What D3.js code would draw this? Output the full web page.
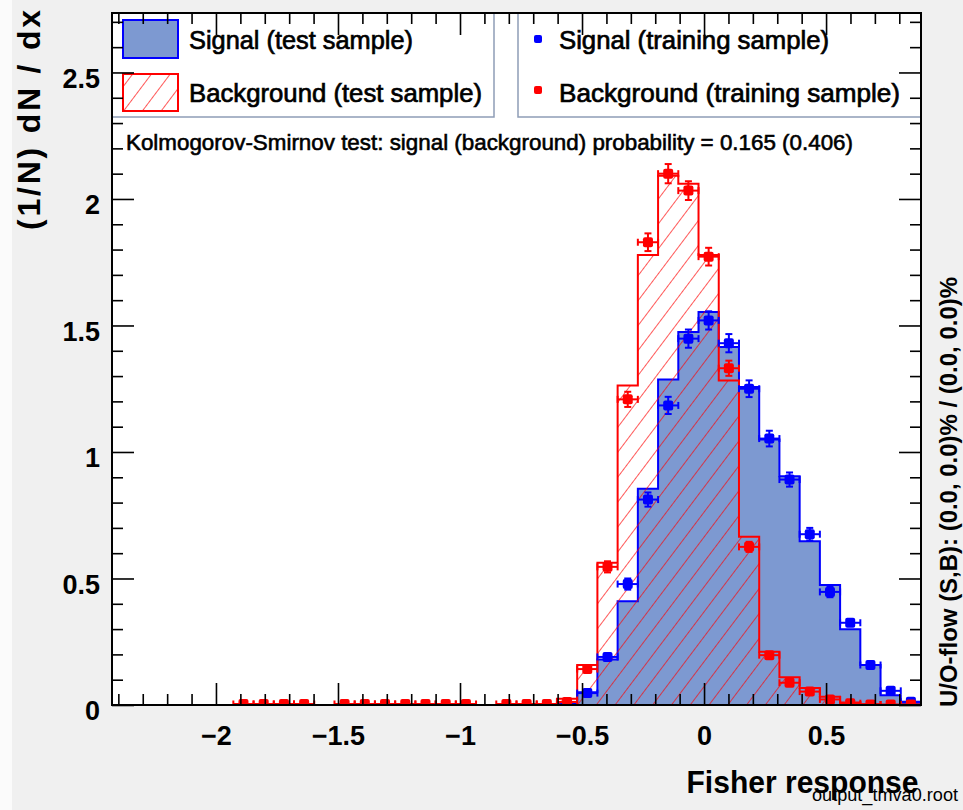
<!DOCTYPE html>
<html><head><meta charset="utf-8">
<script src="https://cdn.jsdelivr.net/npm/d3@7/dist/d3.min.js"></script>
<style>
body{margin:0;background:#f0f0f0}
svg{display:block}
text{font-family:"Liberation Sans",Arial,Helvetica,sans-serif}
</style>
</head><body>
<svg id="c" width="963" height="810"></svg>
<script>
// ---------------- data ----------------
const xRange = [-2.426, 0.889];
const yRange = [0, 2.735];
const nBins = 40;

const sigTest = [0,0,0,0,0,0,0,0,0,0, 0,0,0,0,0,0,0,0,0,0,
  0,0,0.004,0.05,0.18,0.41,0.855,1.286,1.474,1.553,
  1.415,1.257,1.049,0.904,0.647,0.474,0.299,0.158,0.039,0.009];

const bkgTest = [0,0,0,0,0,0,0,0,0,0, 0,0,0,0,0,0,0,0,0,0,
  0,0,0.025,0.158,0.562,1.263,1.779,2.092,2.06,1.779,
  1.283,0.665,0.21,0.11,0.067,0.033,0.01,0.003,0,0];

const sigTrain = [null,null,null,null,null,null,null,null,null,null,
  null,null,null,null,null,null,null,null,null,null,
  null,null,null,0.047,0.19,0.478,0.812,1.184,1.448,1.52,
  1.43,1.25,1.053,0.891,0.675,0.447,0.325,0.158,0.056,0.013];
const sigTrainErr = [null,null,null,null,null,null,null,null,null,null,
  null,null,null,null,null,null,null,null,null,null,
  null,null,null,0.008,0.015,0.022,0.028,0.034,0.036,0.036,
  0.036,0.033,0.031,0.028,0.025,0.021,0.018,0.013,0.008,0.004];

const bkgTrain = [null,null,null,null,null,null,0.004,0.004,0.004,0.004,
  null,0.004,0.004,0.004,0.004,0.004,0.004,0.004,null,0.004,
  0.004,0.004,0.012,0.142,0.546,1.208,1.829,2.10,2.033,1.772,
  1.331,0.625,0.197,0.088,0.053,0.022,0.007,0.002,0.002,0.002];
const bkgTrainErr = [null,null,null,null,null,null,0.003,0.003,0.003,0.003,
  null,0.003,0.003,0.003,0.003,0.003,0.003,0.003,null,0.003,
  0.003,0.003,0.005,0.012,0.022,0.03,0.035,0.038,0.037,0.035,
  0.03,0.02,0.012,0.008,0.006,0.004,0.003,0.002,0.002,0.002];

const xMajorTicks = [-2, -1.5, -1, -0.5, 0, 0.5];
const xTickLabels = ["\u22122", "\u22121.5", "\u22121", "\u22120.5", "0", "0.5"];
const yMajorTicks = [0, 0.5, 1, 1.5, 2, 2.5];
const yTickLabels = ["0", "0.5", "1", "1.5", "2", "2.5"];

const legendLeft = ["Signal (test sample)", "Background (test sample)"];
const legendRight = ["Signal (training sample)", "Background (training sample)"];
const ksText = "Kolmogorov-Smirnov test: signal (background) probability = 0.165 (0.406)";
const xTitle = "Fisher response";
const yTitle = "(1/N) dN / dx";
const flowText = "U/O-flow (S,B): (0.0, 0.0)% / (0.0, 0.0)%";
const fileText = "output_tmva0.root";

// ---------------- styles ----------------
const sigFill = "#7d99d1", sigLine = "#0000ff", bkgLine = "#ff0000";
const L = 112, R = 921, T = 13, B = 705;

const svg = d3.select("#c");
const x = d3.scaleLinear().domain(xRange).range([L, R]);
const y = d3.scaleLinear().domain(yRange).range([B, T]);
const bw = (xRange[1] - xRange[0]) / nBins;
const edge = i => xRange[0] + i * bw;

// background
svg.append("rect").attr("width", 963).attr("height", 810).attr("fill", "#f0f0f0");
svg.append("rect").attr("width", 12).attr("height", 810).attr("fill", "#fbfbfb");
svg.append("rect").attr("x", L).attr("y", T).attr("width", R - L).attr("height", B - T).attr("fill", "#fff");

const defs = svg.append("defs");
const pat = defs.append("pattern").attr("id", "hatch").attr("patternUnits", "userSpaceOnUse")
  .attr("width", 15).attr("height", 15).attr("patternTransform", "rotate(37)");
pat.append("line").attr("x1", 0).attr("y1", -2).attr("x2", 0).attr("y2", 17)
  .attr("stroke", bkgLine).attr("stroke-width", 1.3);

defs.append("clipPath").attr("id", "plotclip").append("rect")
  .attr("x", L).attr("y", T).attr("width", R - L).attr("height", B - T);

function stepPoints(vals) {
  const pts = [[x(edge(0)), y(0)]];
  vals.forEach((v, i) => { pts.push([x(edge(i)), y(v)]); pts.push([x(edge(i + 1)), y(v)]); });
  pts.push([x(edge(nBins)), y(0)]);
  return pts;
}
const line = d3.line();
const plot = svg.append("g").attr("clip-path", "url(#plotclip)");

plot.append("path").attr("d", line(stepPoints(sigTest)) + "Z")
  .attr("fill", sigFill).attr("stroke", sigLine).attr("stroke-width", 2).attr("stroke-linejoin", "miter");
plot.append("path").attr("d", line(stepPoints(bkgTest)) + "Z")
  .attr("fill", "url(#hatch)").attr("stroke", bkgLine).attr("stroke-width", 2);

function drawPoints(vals, errs, color) {
  const g = plot.append("g").attr("stroke", color).attr("fill", color).attr("stroke-width", 2);
  vals.forEach((v, i) => {
    if (v === null) return;
    const cx = x(edge(i) + bw / 2), cy = y(v);
    const x0 = x(edge(i)), x1 = x(edge(i + 1));
    const e = errs[i] || 0;
    const ya = y(v + e), yb = y(v - e);
    g.append("line").attr("x1", x0).attr("x2", x1).attr("y1", cy).attr("y2", cy);
    g.append("line").attr("x1", x0).attr("x2", x0).attr("y1", cy - 3.5).attr("y2", cy + 3.5);
    g.append("line").attr("x1", x1).attr("x2", x1).attr("y1", cy - 3.5).attr("y2", cy + 3.5);
    if (yb - ya > 10) {
      g.append("line").attr("x1", cx).attr("x2", cx).attr("y1", ya).attr("y2", yb);
      g.append("line").attr("x1", cx - 3.5).attr("x2", cx + 3.5).attr("y1", ya).attr("y2", ya);
      g.append("line").attr("x1", cx - 3.5).attr("x2", cx + 3.5).attr("y1", yb).attr("y2", yb);
    }
    g.append("rect").attr("x", cx - 5).attr("y", cy - 5).attr("width", 10).attr("height", 10)
      .attr("rx", 2).attr("stroke", "none");
  });
}
drawPoints(sigTrain, sigTrainErr, sigLine);
drawPoints(bkgTrain, bkgTrainErr, bkgLine);

// ---------------- legends ----------------
const legBorder = "#8e9db6";
const lg = svg.append("g");
lg.append("rect").attr("x", L).attr("y", T).attr("width", 494 - L).attr("height", 117 - T)
  .attr("fill", "#fff").attr("stroke", legBorder).attr("stroke-width", 1.5);
lg.append("rect").attr("x", 518).attr("y", T).attr("width", R - 518).attr("height", 117 - T)
  .attr("fill", "#fff").attr("stroke", legBorder).attr("stroke-width", 1.5);

lg.append("rect").attr("x", 123).attr("y", 20).attr("width", 55).attr("height", 38)
  .attr("fill", sigFill).attr("stroke", sigLine).attr("stroke-width", 2);
lg.append("rect").attr("x", 123).attr("y", 74).attr("width", 55).attr("height", 37)
  .attr("fill", "url(#hatch)").attr("stroke", bkgLine).attr("stroke-width", 2);

const legTxt = (t, xx, yy, tl) => lg.append("text").attr("x", xx).attr("y", yy).text(t)
  .attr("font-size", 25.7).attr("fill", "#000").attr("stroke", "#000").attr("stroke-width", 0.7)
  .attr("textLength", tl).attr("lengthAdjust", "spacingAndGlyphs");
legTxt(legendLeft[0], 189, 48.5, 224);
legTxt(legendLeft[1], 189, 101.5, 293);
legTxt(legendRight[0], 559, 48.5, 270);
legTxt(legendRight[1], 559, 101.5, 341);
lg.append("rect").attr("x", 534).attr("y", 35).attr("width", 8).attr("height", 8).attr("rx", 2).attr("fill", sigLine);
lg.append("rect").attr("x", 534).attr("y", 86).attr("width", 8).attr("height", 8).attr("rx", 2).attr("fill", bkgLine);

svg.append("text").attr("x", 126).attr("y", 149.5).text(ksText)
  .attr("font-size", 22.4).attr("fill", "#000").attr("stroke", "#000").attr("stroke-width", 0.6)
  .attr("textLength", 727).attr("lengthAdjust", "spacingAndGlyphs");

// ---------------- axes ----------------
const xMinor = d3.range(-24, 9).map(d => d / 10).filter(v => !xMajorTicks.some(m => Math.abs(m - v) < 1e-9));
const yMinor = d3.range(0, 28).map(d => d / 10).filter(v => !yMajorTicks.some(m => Math.abs(m - v) < 1e-9));

function styleAxis(g) {
  g.select(".domain").remove();
  g.selectAll(".tick line").attr("stroke", "#000").attr("stroke-width", 1.6);
}
const ax = svg.append("g");
ax.append("g").attr("transform", `translate(0,${B})`)
  .call(d3.axisBottom(x).tickValues(xMajorTicks).tickSize(-22).tickSizeOuter(0).tickPadding(21)
    .tickFormat((d, i) => xTickLabels[i]))
  .call(styleAxis)
  .call(g => g.selectAll("text").attr("font-size", 27).attr("font-weight", "bold").attr("fill", "#000")
    .attr("font-family", "'Liberation Sans', Arial, sans-serif"));
ax.append("g").attr("transform", `translate(0,${B})`)
  .call(d3.axisBottom(x).tickValues(xMinor).tickSize(-11).tickSizeOuter(0).tickFormat(""))
  .call(styleAxis);
ax.append("g").attr("transform", `translate(0,${T})`)
  .call(d3.axisTop(x).tickValues(xMajorTicks).tickSize(-22).tickSizeOuter(0).tickFormat(""))
  .call(styleAxis);
ax.append("g").attr("transform", `translate(0,${T})`)
  .call(d3.axisTop(x).tickValues(xMinor).tickSize(-11).tickSizeOuter(0).tickFormat(""))
  .call(styleAxis);

ax.append("g").attr("transform", `translate(${L},0)`)
  .call(d3.axisLeft(y).tickValues(yMajorTicks).tickSize(-22).tickSizeOuter(0).tickPadding(12)
    .tickFormat((d, i) => yTickLabels[i]))
  .call(styleAxis)
  .call(g => g.selectAll("text").attr("font-size", 27).attr("font-weight", "bold").attr("fill", "#000")
    .attr("dy", "0.55em").attr("font-family", "'Liberation Sans', Arial, sans-serif"));
ax.append("g").attr("transform", `translate(${L},0)`)
  .call(d3.axisLeft(y).tickValues(yMinor).tickSize(-11).tickSizeOuter(0).tickFormat(""))
  .call(styleAxis);
ax.append("g").attr("transform", `translate(${R},0)`)
  .call(d3.axisRight(y).tickValues(yMajorTicks).tickSize(-22).tickSizeOuter(0).tickFormat(""))
  .call(styleAxis);
ax.append("g").attr("transform", `translate(${R},0)`)
  .call(d3.axisRight(y).tickValues(yMinor).tickSize(-11).tickSizeOuter(0).tickFormat(""))
  .call(styleAxis);

svg.append("rect").attr("x", L).attr("y", T).attr("width", R - L).attr("height", B - T)
  .attr("fill", "none").attr("stroke", "#000").attr("stroke-width", 2);

// ---------------- titles ----------------
svg.append("text").attr("transform", "translate(39.5,10) rotate(-90)")
  .attr("text-anchor", "end").attr("font-size", 32).attr("font-weight", "bold")
  .attr("textLength", 220).attr("lengthAdjust", "spacing").text(yTitle);
svg.append("text").attr("x", 918.5).attr("y", 793).attr("text-anchor", "end")
  .attr("font-size", 31).attr("font-weight", "bold")
  .attr("textLength", 232).attr("lengthAdjust", "spacingAndGlyphs").text(xTitle);
svg.append("text").attr("transform", "translate(956.5,707) rotate(-90)")
  .attr("text-anchor", "start").attr("font-size", 24).attr("font-weight", "bold")
  .attr("textLength", 430).attr("lengthAdjust", "spacingAndGlyphs").text(flowText);
svg.append("text").attr("x", 958).attr("y", 801).attr("text-anchor", "end")
  .attr("font-size", 18).attr("textLength", 146).attr("lengthAdjust", "spacingAndGlyphs").text(fileText);
</script>
</body></html>
